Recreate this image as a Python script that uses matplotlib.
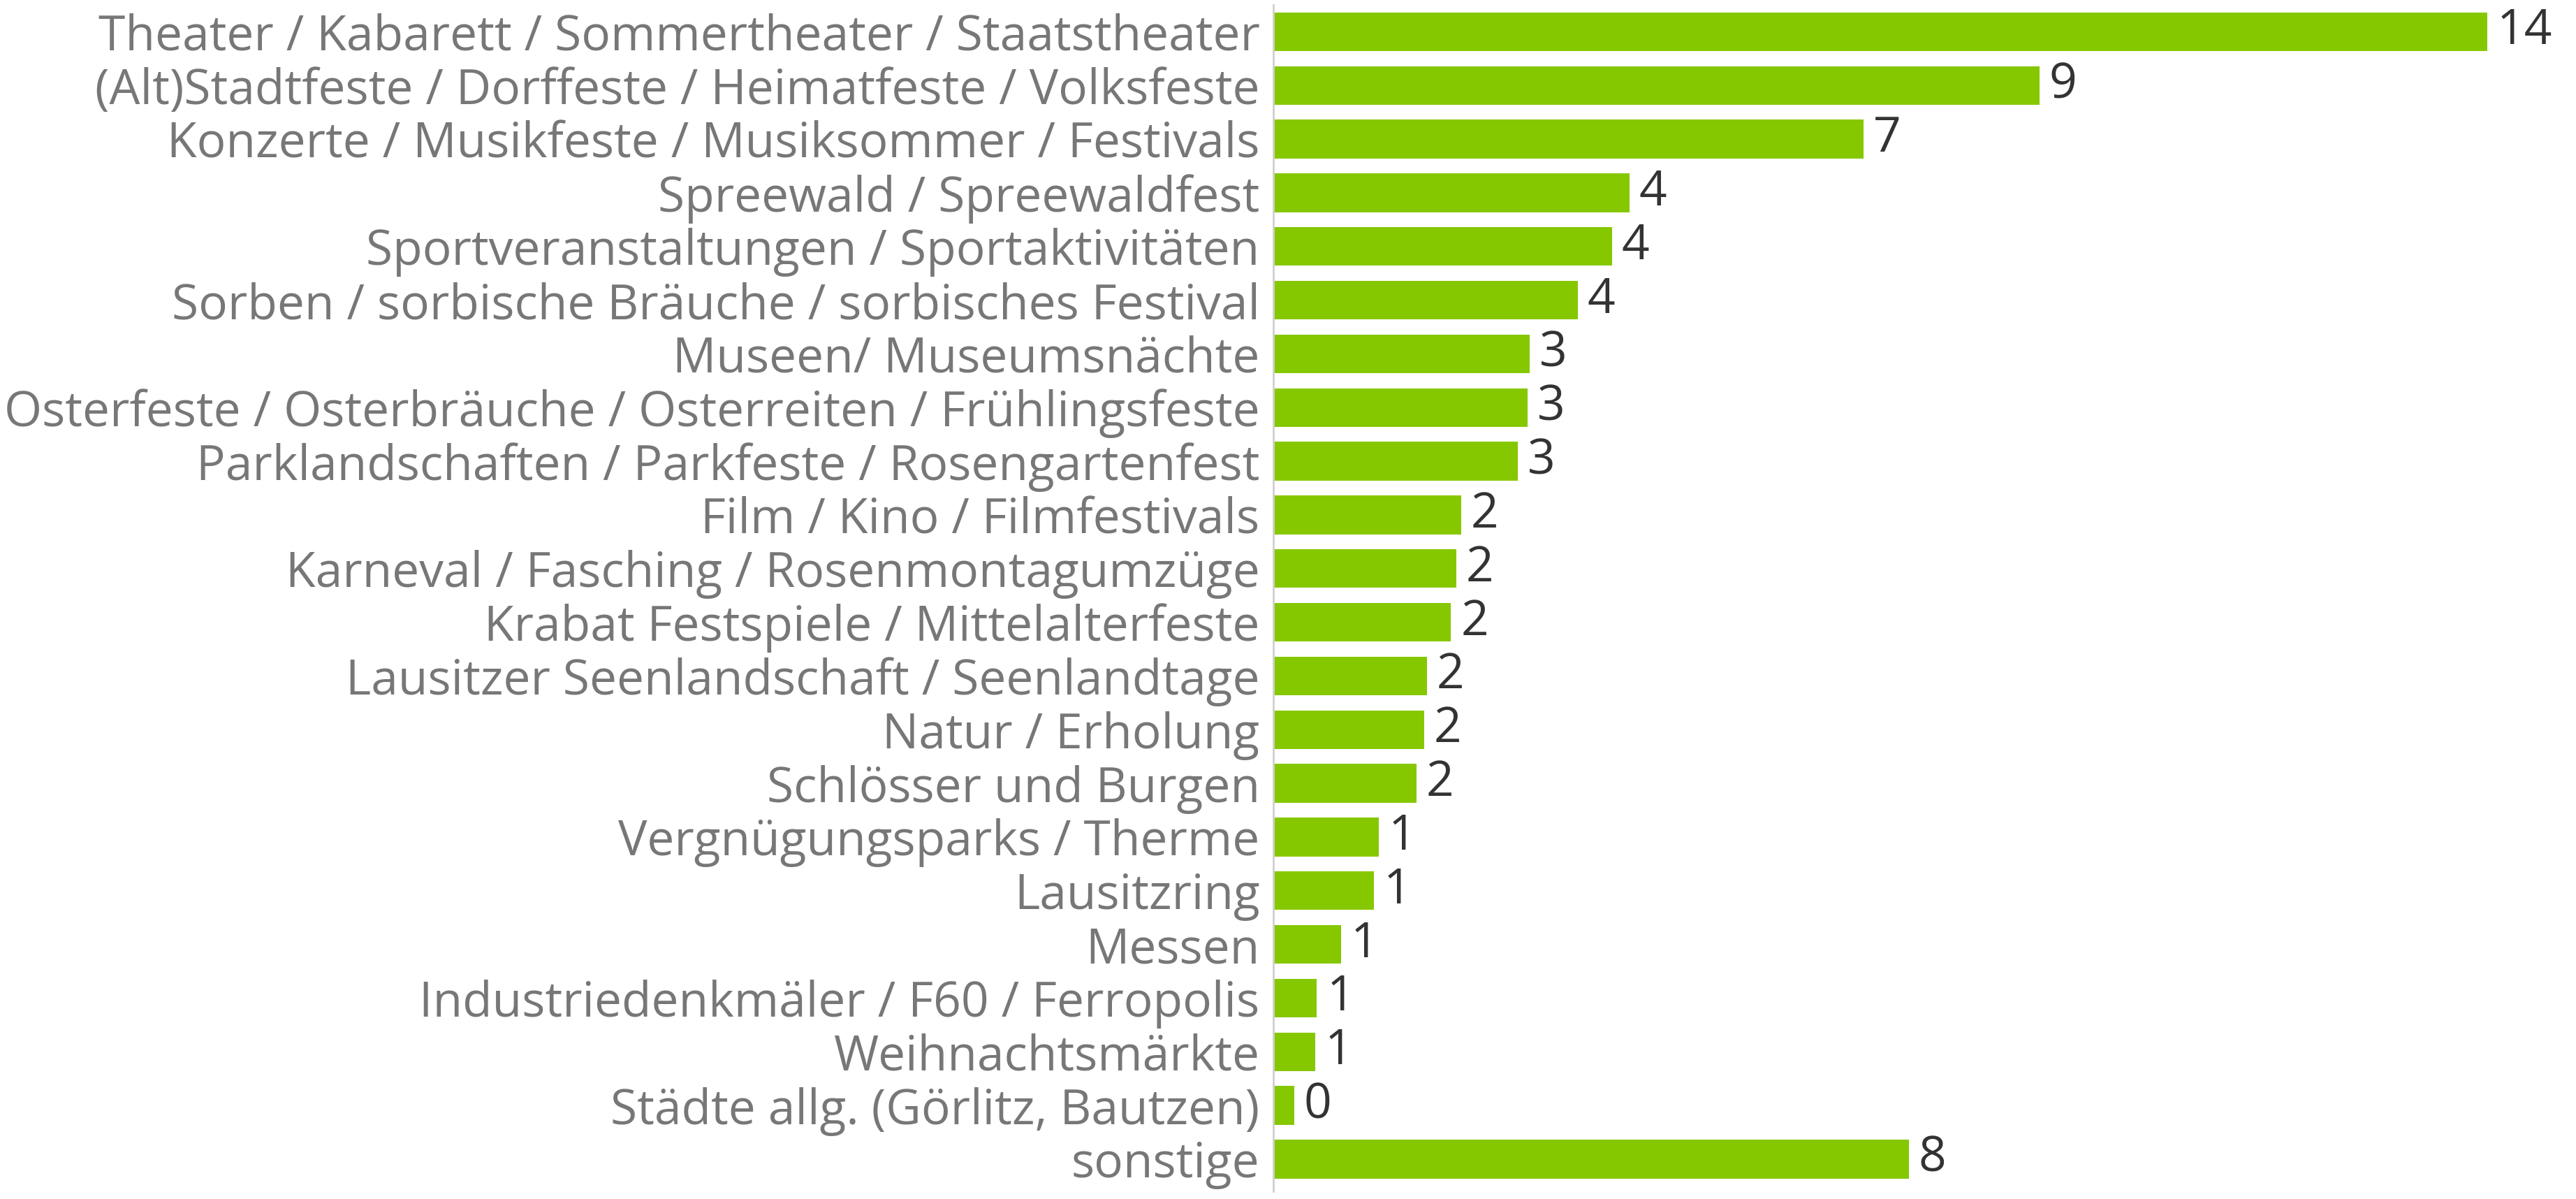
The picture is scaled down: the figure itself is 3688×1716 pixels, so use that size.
import matplotlib
matplotlib.use("Agg")
import matplotlib.pyplot as plt
import numpy as np

categories = [
    "Theater / Kabarett / Sommertheater / Staatstheater",
    "(Alt)Stadtfeste / Dorffeste / Heimatfeste / Volksfeste",
    "Konzerte / Musikfeste / Musiksommer / Festivals",
    "Spreewald / Spreewaldfest",
    "Sportveranstaltungen / Sportaktivitäten",
    "Sorben / sorbische Bräuche / sorbisches Festival",
    "Museen/ Museumsnächte",
    "Osterfeste / Osterbräuche / Osterreiten / Frühlingsfeste",
    "Parklandschaften / Parkfeste / Rosengartenfest",
    "Film / Kino / Filmfestivals",
    "Karneval / Fasching / Rosenmontagumzüge",
    "Krabat Festspiele / Mittelalterfeste",
    "Lausitzer Seenlandschaft / Seenlandtage",
    "Natur / Erholung",
    "Schlösser und Burgen",
    "Vergnügungsparks / Therme",
    "Lausitzring",
    "Messen",
    "Industriedenkmäler / F60 / Ferropolis",
    "Weihnachtsmärkte",
    "Städte allg. (Görlitz, Bautzen)",
    "sonstige",
]
values = [14.48, 9.14, 7.04, 4.25, 4.04, 3.63, 3.06, 3.03, 2.92, 2.24, 2.18,
          2.12, 1.83, 1.80, 1.71, 1.26, 1.20, 0.81, 0.52, 0.50, 0.25, 7.58]

FONT = "Open Sans"
BAR_COLOR = "#86C800"
LABEL_COLOR = "#777777"
VALUE_COLOR = "#333333"

W, H, DPI = 3688, 1716, 200
fig = plt.figure(figsize=(W / DPI, H / DPI), dpi=DPI)
ax = fig.add_axes([1823 / W, 11 / H, 1 - 1823 / W, 1 - 18 / H])

y = np.arange(len(categories))
ax.barh(y, values, height=0.72, color=BAR_COLOR)
ax.set_ylim(len(categories) - 0.4, -0.5)
ax.set_xlim(0, (W - 1823) / 120.0)

ax.set_yticks(y)
ax.set_yticklabels(categories, fontsize=25, color=LABEL_COLOR, family=FONT)
ax.tick_params(axis="y", length=0, pad=7)
ax.set_xticks([])

for spine in ["top", "right", "bottom"]:
    ax.spines[spine].set_visible(False)
ax.spines["left"].set_color("#cfcfcf")
ax.spines["left"].set_linewidth(1.0)

for yi, v in zip(y, values):
    lab = str(int(np.floor(v + 0.5)))
    ax.annotate(lab, xy=(v, yi), xytext=(5, 0), textcoords="offset points",
                ha="left", va="center", fontsize=25, color=VALUE_COLOR,
                family=FONT)

fig.savefig("out.png", dpi=DPI, facecolor="white")
